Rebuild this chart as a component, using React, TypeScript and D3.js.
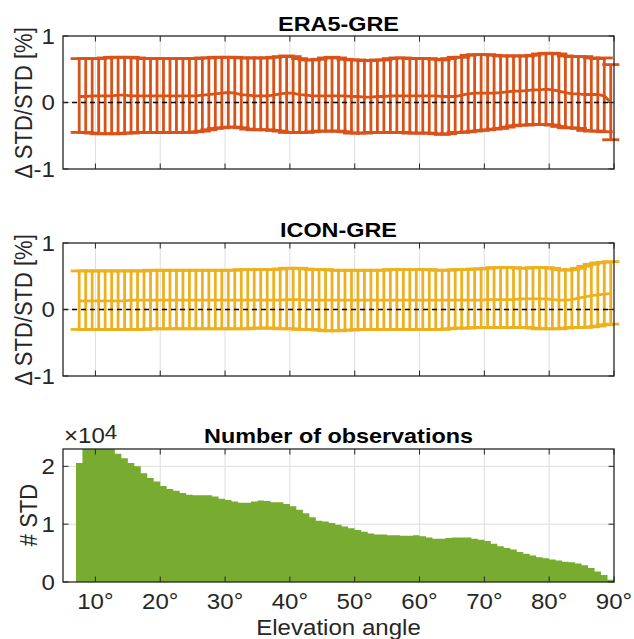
import * as d3 from 'd3';

// elevation bins (1° wide), error bars sit at bin centres
const binLeft = d3.range(7, 90);

// ERA5-GRE: upper / mean / lower of Δ STD/STD [%]
const era5Upper = [
  0.66, 0.66, 0.66, 0.66, 0.67, 0.68, 0.68, 0.68, 0.68, 0.67,
  0.66, 0.66, 0.66, 0.66, 0.66, 0.66, 0.66, 0.66, 0.66, 0.67,
  0.67, 0.68, 0.68, 0.68, 0.68, 0.67, 0.67, 0.67, 0.67, 0.67,
  0.68, 0.69, 0.70, 0.69, 0.66, 0.64, 0.64, 0.65, 0.67, 0.68,
  0.67, 0.65, 0.64, 0.64, 0.63, 0.63, 0.64, 0.64, 0.66, 0.67,
  0.67, 0.66, 0.66, 0.66, 0.66, 0.65, 0.64, 0.66, 0.68, 0.68,
  0.71, 0.72, 0.72, 0.72, 0.71, 0.70, 0.70, 0.70, 0.70, 0.70,
  0.71, 0.73, 0.74, 0.74, 0.73, 0.70, 0.69, 0.69, 0.69, 0.67,
  0.66, 0.67, 0.57,
];
const era5Mean = [
  0.09, 0.09, 0.10, 0.10, 0.10, 0.10, 0.11, 0.11, 0.10, 0.10,
  0.10, 0.10, 0.10, 0.10, 0.10, 0.10, 0.10, 0.10, 0.10, 0.11,
  0.12, 0.13, 0.14, 0.15, 0.14, 0.12, 0.11, 0.10, 0.10, 0.10,
  0.11, 0.13, 0.14, 0.14, 0.12, 0.11, 0.10, 0.10, 0.10, 0.10,
  0.10, 0.10, 0.09, 0.09, 0.08, 0.08, 0.09, 0.09, 0.10, 0.10,
  0.10, 0.10, 0.10, 0.10, 0.10, 0.10, 0.09, 0.09, 0.09, 0.11,
  0.13, 0.14, 0.14, 0.14, 0.14, 0.15, 0.16, 0.17, 0.17, 0.18,
  0.19, 0.19, 0.20, 0.19, 0.17, 0.15, 0.13, 0.13, 0.12, 0.12,
  0.12, 0.10, 0.0,
];
const era5Lower = [
  -0.45, -0.45, -0.46, -0.47, -0.47, -0.47, -0.47, -0.46, -0.46, -0.45,
  -0.45, -0.45, -0.45, -0.45, -0.45, -0.45, -0.45, -0.45, -0.44, -0.43,
  -0.41, -0.39, -0.38, -0.37, -0.37, -0.38, -0.40, -0.41, -0.41, -0.41,
  -0.42, -0.43, -0.45, -0.45, -0.45, -0.45, -0.44, -0.43, -0.43, -0.43,
  -0.43, -0.44, -0.46, -0.46, -0.46, -0.45, -0.45, -0.45, -0.45, -0.45,
  -0.45, -0.46, -0.46, -0.46, -0.46, -0.47, -0.48, -0.47, -0.45, -0.45,
  -0.44, -0.43, -0.42, -0.41, -0.40, -0.39, -0.37, -0.35, -0.34, -0.34,
  -0.33, -0.33, -0.33, -0.34, -0.36, -0.38, -0.38, -0.39, -0.42, -0.43,
  -0.43, -0.44, -0.56,
];

// ICON-GRE
const iconUpper = [
  0.58, 0.58, 0.58, 0.58, 0.58, 0.58, 0.58, 0.58, 0.58, 0.58,
  0.58, 0.59, 0.59, 0.59, 0.59, 0.59, 0.59, 0.59, 0.59, 0.59,
  0.59, 0.59, 0.59, 0.59, 0.59, 0.60, 0.60, 0.60, 0.60, 0.60,
  0.60, 0.61, 0.62, 0.62, 0.62, 0.61, 0.60, 0.60, 0.60, 0.59,
  0.59, 0.59, 0.59, 0.59, 0.59, 0.59, 0.59, 0.59, 0.60, 0.60,
  0.60, 0.60, 0.60, 0.60, 0.60, 0.59, 0.59, 0.59, 0.60, 0.60,
  0.60, 0.61, 0.61, 0.62, 0.63, 0.63, 0.63, 0.63, 0.62, 0.62,
  0.63, 0.63, 0.63, 0.62, 0.60, 0.59, 0.60, 0.62, 0.65, 0.68,
  0.70, 0.71, 0.72,
];
const iconMean = [
  0.13, 0.13, 0.13, 0.13, 0.13, 0.13, 0.13, 0.13, 0.14, 0.14,
  0.14, 0.14, 0.14, 0.14, 0.14, 0.14, 0.14, 0.14, 0.14, 0.14,
  0.14, 0.14, 0.14, 0.14, 0.14, 0.14, 0.14, 0.14, 0.14, 0.14,
  0.14, 0.14, 0.15, 0.15, 0.15, 0.14, 0.14, 0.14, 0.14, 0.14,
  0.14, 0.14, 0.14, 0.14, 0.14, 0.14, 0.14, 0.14, 0.14, 0.14,
  0.14, 0.14, 0.14, 0.14, 0.14, 0.14, 0.14, 0.14, 0.14, 0.14,
  0.14, 0.14, 0.14, 0.15, 0.15, 0.15, 0.15, 0.15, 0.16, 0.16,
  0.16, 0.16, 0.16, 0.15, 0.14, 0.14, 0.15, 0.17, 0.19, 0.21,
  0.22, 0.23, 0.24,
];
const iconLower = [
  -0.30, -0.30, -0.30, -0.30, -0.30, -0.30, -0.30, -0.30, -0.30, -0.30,
  -0.30, -0.29, -0.29, -0.29, -0.29, -0.29, -0.29, -0.29, -0.29, -0.29,
  -0.29, -0.29, -0.29, -0.29, -0.29, -0.29, -0.29, -0.28, -0.28, -0.28,
  -0.28, -0.29, -0.29, -0.29, -0.30, -0.30, -0.30, -0.31, -0.32, -0.32,
  -0.32, -0.31, -0.31, -0.30, -0.30, -0.30, -0.30, -0.30, -0.30, -0.30,
  -0.30, -0.30, -0.30, -0.30, -0.30, -0.30, -0.30, -0.29, -0.28, -0.28,
  -0.28, -0.27, -0.27, -0.27, -0.27, -0.27, -0.27, -0.27, -0.27, -0.27,
  -0.28, -0.29, -0.29, -0.29, -0.29, -0.28, -0.27, -0.27, -0.27, -0.26,
  -0.25, -0.23, -0.22,
];

// number of observations per bin, in units of 1e4
const obsCount = [
  2.06, 2.45, 2.52, 2.52, 2.45, 2.38, 2.22, 2.14, 2.06, 2.00,
  1.88, 1.80, 1.74, 1.66, 1.61, 1.58, 1.54, 1.51, 1.50, 1.50,
  1.50, 1.48, 1.44, 1.42, 1.39, 1.37, 1.37, 1.39, 1.41, 1.40,
  1.38, 1.38, 1.35, 1.31, 1.25, 1.19, 1.12, 1.06, 1.045, 1.02,
  0.99, 0.96, 0.93, 0.90, 0.87, 0.84, 0.82, 0.82, 0.81, 0.81,
  0.80, 0.80, 0.81, 0.79, 0.77, 0.75, 0.75, 0.76, 0.77, 0.77,
  0.77, 0.75, 0.73, 0.71, 0.66, 0.62, 0.59, 0.56, 0.52, 0.49,
  0.46, 0.43, 0.41, 0.39, 0.37, 0.35, 0.34, 0.32, 0.29, 0.24,
  0.18, 0.12, 0.04,
];

const xTicks = [10, 20, 30, 40, 50, 60, 70, 80, 90];
const diffTicks = [-1, 0, 1];
const obsTicks = [0, 1, 2];

const FONT = "'Liberation Sans', Arial, Helvetica, sans-serif";
const AX = '#262626';
const GRID = '#dedede';
const LEFT = 63;
const RIGHT = 614;
const TICK = 5.5;
const SX = 1.12;

const x = d3.scaleLinear().domain([5, 90]).range([LEFT, RIGHT]);

function Frame({ y, grid }) {
  const [top, bottom] = [y.range()[1], y.range()[0]];
  return (
    <g>
      {xTicks.filter(t => t < 90).map(t => (
        <line key={'gx' + t} x1={x(t)} x2={x(t)} y1={top} y2={bottom} stroke={GRID} strokeWidth={1} />
      ))}
      {grid.map(t => (
        <line key={'gy' + t} x1={LEFT} x2={RIGHT} y1={y(t)} y2={y(t)} stroke={GRID} strokeWidth={1} />
      ))}
    </g>
  );
}

function Box({ y, yTicks }) {
  const [top, bottom] = [y.range()[1], y.range()[0]];
  return (
    <g>
      {xTicks.map(t => (
        <g key={'tx' + t}>
          <line x1={x(t)} x2={x(t)} y1={bottom} y2={bottom - TICK} stroke={AX} strokeWidth={1} />
          <line x1={x(t)} x2={x(t)} y1={top} y2={top + TICK} stroke={AX} strokeWidth={1} />
        </g>
      ))}
      {yTicks.map(t => (
        <g key={'ty' + t}>
          <line x1={LEFT} x2={LEFT + TICK} y1={y(t)} y2={y(t)} stroke={AX} strokeWidth={1} />
          <line x1={RIGHT} x2={RIGHT - TICK} y1={y(t)} y2={y(t)} stroke={AX} strokeWidth={1} />
          <text
            transform={`translate(55,${y(t) + 7.5}) scale(${SX},1)`}
            textAnchor="end"
            fontSize={21.5}
            fill={AX}
            fontFamily={FONT}
          >
            {t}
          </text>
        </g>
      ))}
      <rect x={LEFT} y={top} width={RIGHT - LEFT} height={bottom - top} fill="none" stroke={AX} strokeWidth={1.3} />
    </g>
  );
}

function ErrorBars({ y, upper, mean, lower, color }) {
  const pts = binLeft.map((b, i) => ({ c: b + 0.5, hi: upper[i], m: mean[i], lo: lower[i] }));
  const line = d3.line().x(d => x(d.c)).y(d => y(d.m));
  const cap = 8.5;
  return (
    <g stroke={color} strokeWidth={2.8} fill="none">
      {pts.map(d => (
        <g key={d.c}>
          <line x1={x(d.c)} x2={x(d.c)} y1={y(d.hi)} y2={y(d.lo)} />
          <line x1={x(d.c) - cap} x2={x(d.c) + cap} y1={y(d.hi)} y2={y(d.hi)} />
          <line x1={x(d.c) - cap} x2={x(d.c) + cap} y1={y(d.lo)} y2={y(d.lo)} />
        </g>
      ))}
      <path d={line(pts)} />
    </g>
  );
}

function Title({ text, yPos }) {
  return (
    <text
      transform={`translate(${(LEFT + RIGHT) / 2},${yPos}) scale(1.17,1)`}
      textAnchor="middle"
      fontSize={20}
      fontWeight="bold"
      fill="#000"
      fontFamily={FONT}
    >
      {text}
    </text>
  );
}

function YLabel({ text, xPos, yPos }) {
  return (
    <text
      transform={`translate(${xPos},${yPos}) scale(${SX},1) rotate(-90)`}
      textAnchor="middle"
      fontSize={22}
      fill={AX}
      fontFamily={FONT}
    >
      {text}
    </text>
  );
}

export default function App() {
  const yTop = d3.scaleLinear().domain([-1, 1]).range([169, 36]);
  const yMid = d3.scaleLinear().domain([-1, 1]).range([376, 243]);
  const yBot = d3.scaleLinear().domain([0, 2.3]).range([582, 449]);

  // step outline of the histogram, closed at the right edge of the last bin
  const histPts = binLeft.map((b, i) => ({ b, v: obsCount[i] }));
  histPts.push({ b: binLeft[binLeft.length - 1] + 1, v: obsCount[obsCount.length - 1] });
  const histArea = d3
    .area()
    .x(d => x(d.b))
    .y0(yBot(0))
    .y1(d => yBot(d.v))
    .curve(d3.curveStepAfter);

  return (
    <svg
      width={634}
      height={639}
      style={{ position: 'absolute', left: 0, top: 0, background: '#fff' }}
    >
      <defs>
        <clipPath id="botClip">
          <rect x={LEFT} y={449} width={RIGHT - LEFT} height={133} />
        </clipPath>
      </defs>

      {/* ERA5 panel */}
      <Frame y={yTop} grid={[0]} />
      <ErrorBars y={yTop} upper={era5Upper} mean={era5Mean} lower={era5Lower} color="#D95319" />
      <line x1={LEFT} x2={RIGHT} y1={yTop(0)} y2={yTop(0)} stroke="#000" strokeWidth={1.3} strokeDasharray="5,4" />
      <Box y={yTop} yTicks={diffTicks} />
      <Title text="ERA5-GRE" yPos={30.5} />
      <YLabel text="Δ STD/STD [%]" xPos={32} yPos={103} />

      {/* ICON panel */}
      <Frame y={yMid} grid={[0]} />
      <ErrorBars y={yMid} upper={iconUpper} mean={iconMean} lower={iconLower} color="#EDB120" />
      <line x1={LEFT} x2={RIGHT} y1={yMid(0)} y2={yMid(0)} stroke="#000" strokeWidth={1.3} strokeDasharray="5,4" />
      <Box y={yMid} yTicks={diffTicks} />
      <Title text="ICON-GRE" yPos={237} />
      <YLabel text="Δ STD/STD [%]" xPos={32} yPos={310} />

      {/* observations panel */}
      <Frame y={yBot} grid={[1, 2]} />
      <path d={histArea(histPts)} fill="#77AC30" clipPath="url(#botClip)" />
      <Box y={yBot} yTicks={obsTicks} />
      <Title text="Number of observations" yPos={443} />
      <YLabel text="# STD" xPos={36.5} yPos={515} />
      <text transform={`translate(64,443) scale(${SX},1)`} fontSize={21.5} fill={AX} fontFamily={FONT}>
        ×10
        <tspan dy={-4} fontSize={20}>4</tspan>
      </text>
      {xTicks.map(t => (
        <text
          key={'xl' + t}
          transform={`translate(${x(t)},609) scale(${SX},1)`}
          textAnchor="middle"
          fontSize={21.5}
          fill={AX}
          fontFamily={FONT}
        >
          {t + '°'}
        </text>
      ))}
      <text
        transform={`translate(${(LEFT + RIGHT) / 2},635) scale(${SX},1)`}
        textAnchor="middle"
        fontSize={21.5}
        fill={AX}
        fontFamily={FONT}
      >
        Elevation angle
      </text>
    </svg>
  );
}
